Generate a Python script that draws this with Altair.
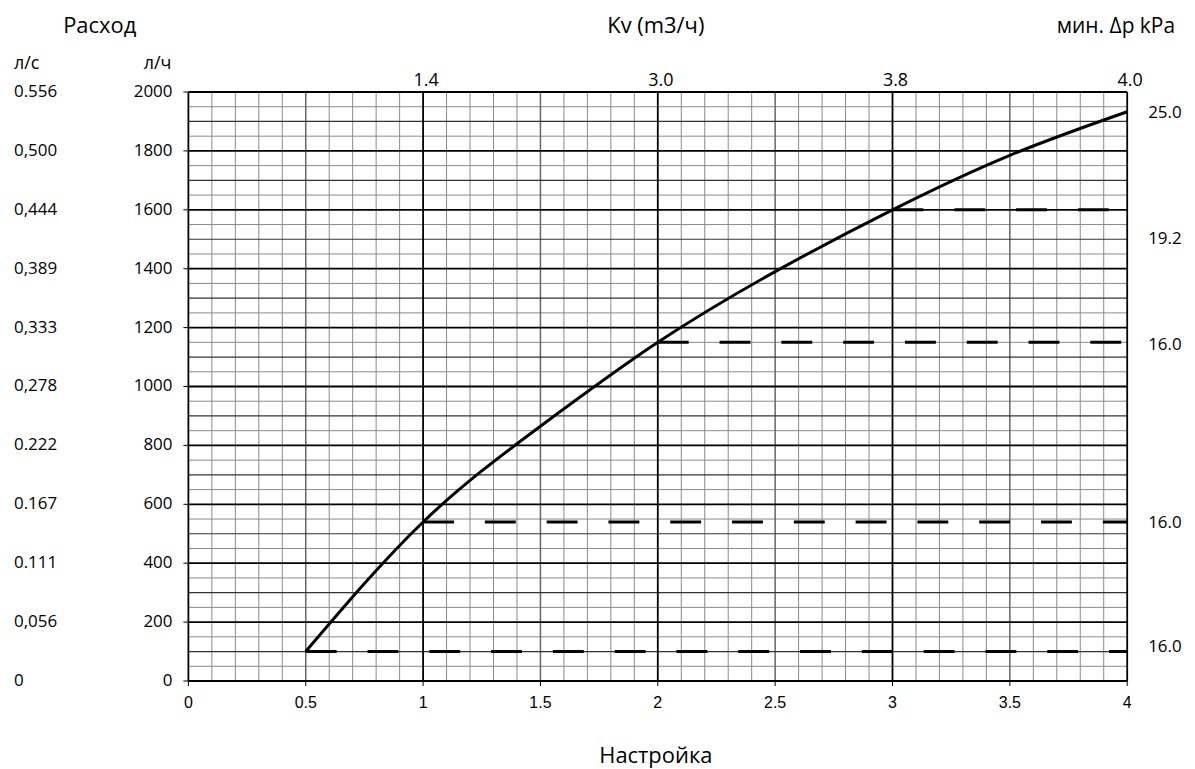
import altair as alt
import numpy as np
import pandas as pd

# ---- data ----
curve_setting = [0.5, 1.0, 1.5, 2.0, 2.5, 3.0, 3.5, 4.0]
curve_flow = [100, 540, 865, 1150, 1390, 1600, 1785, 1933]

dash_start = [0.5, 1.0, 2.0, 3.0]
dash_end = [4.0, 4.0, 4.0, 4.0]
dash_flow = [100, 540, 1150, 1600]

lh_ticks = [0, 200, 400, 600, 800, 1000, 1200, 1400, 1600, 1800, 2000]
lh_labels = ["0", "200", "400", "600", "800", "1000", "1200", "1400", "1600", "1800", "2000"]
ls_labels = ["0", "0,056", "0.111", "0.167", "0.222", "0,278", "0,333", "0,389", "0,444", "0,500", "0.556"]

kv_settings = [1, 2, 3, 4]
kv_labels = ["1.4", "3.0", "3.8", "4.0"]

dp_flow = [1930, 1500, 1140, 535, 115]
dp_labels = ["25.0", "19.2", "16.0", "16.0", "16.0"]

x_ticks = [0, 0.5, 1, 1.5, 2, 2.5, 3, 3.5, 4]
x_labels = ["0", "0.5", "1", "1.5", "2", "2.5", "3", "3.5", "4"]

W, H = 942, 591
FONT = "Open Sans"

xs = alt.Scale(domain=[0, 4], nice=False, zero=False)
ys = alt.Scale(domain=[0, 2000], nice=False)


def X(f):
    return alt.X(f, type="quantitative", scale=xs, axis=None)


def Y(f):
    return alt.Y(f, type="quantitative", scale=ys, axis=None)


# grid line positions
vx = np.round(np.arange(0, 4.0001, 0.1), 2)
vminor = pd.DataFrame({"x": [v for v in vx if abs(v * 2 - round(v * 2)) > 1e-6]})
vhalf = pd.DataFrame({"x": [0.5, 1.5, 2.5, 3.5]})
vmajor = pd.DataFrame({"x": [0, 1, 2, 3, 4]})
hy = np.arange(0, 2001, 50)
hminor = pd.DataFrame({"y": [v for v in hy if v % 100 != 0]})
hmid = pd.DataFrame({"y": [v for v in hy if v % 100 == 0 and v % 200 != 0]})
hmajor = pd.DataFrame({"y": [v for v in hy if v % 200 == 0]})


def vrule(df, color, w):
    return alt.Chart(df).mark_rule(color=color, strokeWidth=w).encode(x=X("x"))


def hrule(df, color, w):
    return alt.Chart(df).mark_rule(color=color, strokeWidth=w).encode(y=Y("y"))


grid = [
    vrule(vminor, "#8a8a8a", 1),
    hrule(hminor, "#8a8a8a", 1),
    vrule(vhalf, "#666666", 1.5),
    hrule(hmid, "#333333", 1.2),
    hrule(hmajor, "#000000", 1.8),
    vrule(vmajor, "#000000", 1.8),
]

xdf = pd.DataFrame({"x": x_ticks, "t": x_labels})
x_tick_marks = alt.Chart(xdf).mark_rule(color="black", strokeWidth=1).encode(
    x=X("x"), y=alt.value(H), y2=alt.value(H + 5))
x_tick_text = alt.Chart(xdf).mark_text(
    align="center", baseline="middle", font="Liberation Sans", fontSize=16, color="black").encode(
    x=X("x"), y=alt.value(H + 22), text="t:N")

ydf = pd.DataFrame({"q": lh_ticks, "t": lh_labels, "s": ls_labels})
y_tick_marks = alt.Chart(ydf).mark_rule(color="black", strokeWidth=1).encode(
    y=Y("q"), x=alt.value(-5), x2=alt.value(0))
y_tick_text = alt.Chart(ydf).mark_text(
    align="right", baseline="middle", font=FONT, fontSize=17, color="black").encode(
    y=Y("q"), x=alt.value(-16), text="t:N")
ls_text = alt.Chart(ydf).mark_text(
    align="left", baseline="middle", font=FONT, fontSize=17, color="black").encode(
    y=Y("q"), x=alt.value(-175), text="s:N")

kv_text = alt.Chart(pd.DataFrame({"x": kv_settings, "t": kv_labels})).mark_text(
    align="center", baseline="middle", font=FONT, fontSize=18, color="black", dx=3).encode(
    x=X("x"), y=alt.value(-11), text="t:N")

curve = alt.Chart(pd.DataFrame({"s": curve_setting, "q": curve_flow})).mark_line(
    color="black", strokeWidth=3, interpolate="natural").encode(x=X("s"), y=Y("q"))

dashes = alt.Chart(pd.DataFrame({"a": dash_start, "b": dash_end, "q": dash_flow})).mark_rule(
    color="black", strokeWidth=3, strokeDash=[31, 31]).encode(x=X("a"), x2="b:Q", y=Y("q"))

dp_text = alt.Chart(pd.DataFrame({"q": dp_flow, "t": dp_labels})).mark_text(
    align="left", baseline="middle", font=FONT, fontSize=17, color="black").encode(
    x=alt.value(W + 21), y=Y("q"), text="t:N")


def label(txt, x, y, align="center", size=22):
    return alt.Chart(pd.DataFrame({"t": [txt]})).mark_text(
        align=align, baseline="alphabetic", font=FONT, fontSize=size, color="black").encode(
        x=alt.value(x), y=alt.value(y), text="t:N")


titles = [
    label("Расход", -89, -59),
    label("Kv (m3/ч)", 469, -59),
    label("мин. Δp kPa", 990, -59, align="right", size=21),
    label("л/с", -175, -23, align="left", size=18),
    label("л/ч", -17, -23, align="right", size=18),
    label("Настройка", 469, 673),
]

chart = alt.layer(*grid, x_tick_marks, x_tick_text, y_tick_marks, y_tick_text, ls_text, kv_text,
                  curve, dashes, dp_text, *titles).properties(
    width=W, height=H,
    autosize=alt.AutoSizeParams(type="none"),
    padding={"left": 181, "top": 83, "right": 60, "bottom": 87},
    background="white",
).configure_view(stroke=None)

chart.save("out.html", embed_options={"renderer": "svg", "actions": False})
